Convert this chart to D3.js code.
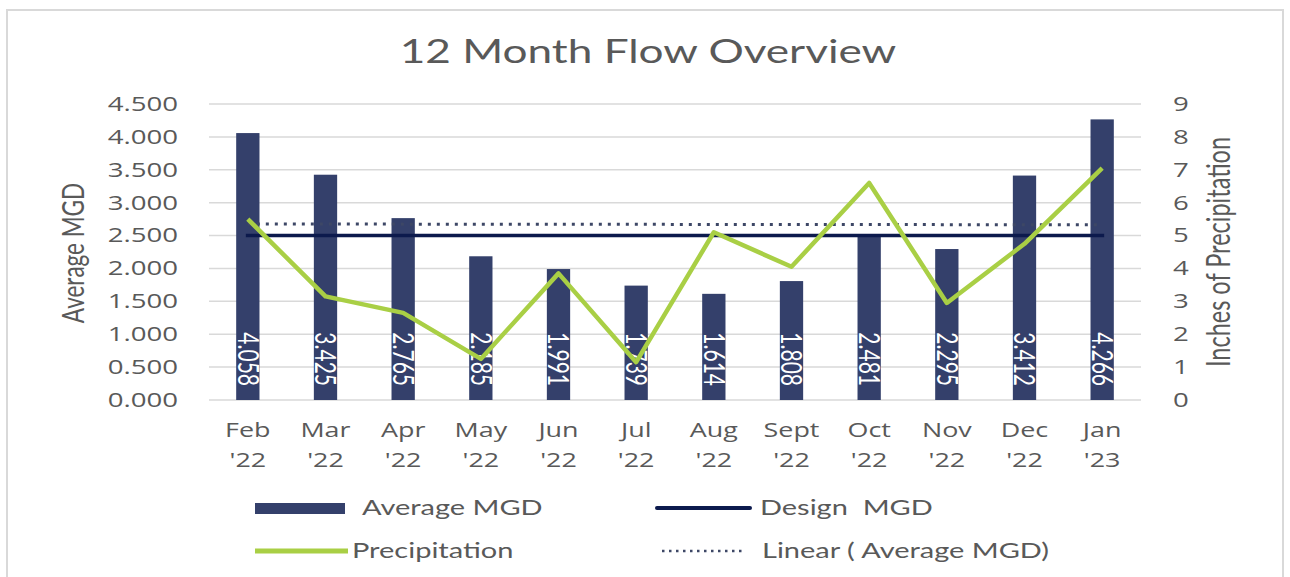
<!DOCTYPE html>
<html>
<head>
<meta charset="utf-8">
<script src="https://cdn.jsdelivr.net/npm/d3@7"></script>
<style>
  body { margin: 0; background: #fff; }
  text { font-family: "Open Sans", sans-serif; fill: #595959; }
  .cal { font-family: Lato, "Open Sans", sans-serif; }
</style>
</head>
<body>
<svg id="chart" width="1290" height="577"></svg>
<script>
// data
const months = ["Feb", "Mar", "Apr", "May", "Jun", "Jul", "Aug", "Sept", "Oct", "Nov", "Dec", "Jan"];
const years = ["'22", "'22", "'22", "'22", "'22", "'22", "'22", "'22", "'22", "'22", "'22", "'23"];
const avgMgd = [4.058, 3.425, 2.765, 2.185, 1.991, 1.739, 1.614, 1.808, 2.481, 2.295, 3.412, 4.266];
const precip = [5.5, 3.15, 2.65, 1.25, 3.85, 1.15, 5.1, 4.05, 6.6, 2.95, 4.75, 7.05];
const designMgd = 2.5;
const leftTicks = [0, 0.5, 1, 1.5, 2, 2.5, 3, 3.5, 4, 4.5];
const rightTicks = [0, 1, 2, 3, 4, 5, 6, 7, 8, 9];

// the source picture is stretched sideways, so text gets the same stretch
const SX = 1.38;

const svg = d3.select('#chart');
const plot = { left: 209, right: 1141, top: 104, bottom: 400 };

const x = d3.scaleBand()
    .domain(months)
    .range([plot.left, plot.right])
    .paddingInner(0.7)
    .paddingOuter(0.35);
const xc = m => x(m) + x.bandwidth() / 2;

const y = d3.scaleLinear().domain([0, 4.5]).range([plot.bottom, plot.top]);
const y2 = d3.scaleLinear().domain([0, 9]).range([plot.bottom, plot.top]);

// outer frame
svg.append('rect')
    .attr('x', 7).attr('y', 10)
    .attr('width', 1276).attr('height', 600)
    .attr('fill', '#fff')
    .attr('stroke', '#d9d9d9')
    .attr('stroke-width', 2);

// title
svg.append('text')
    .attr('class', 'cal')
    .attr('transform', `translate(648,63) scale(${SX},1)`)
    .attr('text-anchor', 'middle')
    .style('font-size', '32px')
    .text('12 Month Flow Overview');

// gridlines
svg.append('g')
    .selectAll('line')
    .data(leftTicks)
    .enter()
    .append('line')
    .attr('x1', plot.left).attr('x2', plot.right)
    .attr('y1', d => y(d)).attr('y2', d => y(d))
    .attr('stroke', '#d9d9d9')
    .attr('stroke-width', 1.5);

// left axis
const gl = svg.append('g')
    .attr('transform', `translate(${plot.left},0)`)
    .call(d3.axisLeft(y).tickValues(leftTicks).tickFormat(d3.format('.3f')).tickSize(0).tickPadding(31));
gl.select('.domain').remove();
gl.selectAll('text')
    .attr('x', -31 / SX)
    .attr('transform', `scale(${SX},1)`)
    .style('font-size', '20px')
    .style('font-family', '"Open Sans", sans-serif')
    .attr('fill', '#595959');

// right axis
const gr = svg.append('g')
    .attr('transform', `translate(${plot.right},0)`)
    .call(d3.axisRight(y2).tickValues(rightTicks).tickSize(0).tickPadding(32));
gr.select('.domain').remove();
gr.selectAll('text')
    .attr('x', 32 / SX)
    .attr('transform', `scale(${SX},1)`)
    .style('font-size', '20px')
    .style('font-family', '"Open Sans", sans-serif')
    .attr('fill', '#595959');

// bottom axis, two line labels
const gb = svg.append('g')
    .attr('transform', `translate(0,${plot.bottom})`)
    .call(d3.axisBottom(x).tickSize(0));
gb.select('.domain').remove();
gb.selectAll('.tick text').each(function (d, i) {
    const t = d3.select(this);
    t.text(null)
        .attr('y', 0).attr('dy', null)
        .attr('transform', `scale(${SX},1)`)
        .style('font-size', '19.5px')
        .style('font-family', '"Open Sans", sans-serif')
        .attr('fill', '#595959');
    t.append('tspan').attr('x', 0).attr('y', 37).text(months[i]);
    t.append('tspan').attr('x', 0).attr('y', 67).text(years[i]);
});

// axis titles
svg.append('text')
    .attr('class', 'cal')
    .attr('transform', `translate(84,253) scale(${SX},1) rotate(-90)`)
    .attr('text-anchor', 'middle')
    .style('font-size', '22.5px')
    .text('Average MGD');

svg.append('text')
    .attr('class', 'cal')
    .attr('transform', `translate(1230,252) scale(${SX},1) rotate(-90)`)
    .attr('text-anchor', 'middle')
    .style('font-size', '23.5px')
    .text('Inches of Precipitation');

// bars
svg.append('g')
    .selectAll('rect')
    .data(avgMgd)
    .enter()
    .append('rect')
    .attr('x', (d, i) => x(months[i]))
    .attr('y', d => y(d))
    .attr('width', x.bandwidth())
    .attr('height', d => y(0) - y(d))
    .attr('fill', '#34406b');

// bar value labels, inside base, rotated
svg.append('g')
    .selectAll('text')
    .data(avgMgd)
    .enter()
    .append('text')
    .attr('class', 'cal')
    .attr('transform', (d, i) => `translate(${xc(months[i])},386) scale(${SX},1) rotate(90)`)
    .attr('text-anchor', 'end')
    .attr('dy', '0.35em')
    .style('font-size', '21px')
    .style('fill', '#fff')
    .text(d => d3.format('.3f')(d));

// trendline of the bars (least squares)
const n = avgMgd.length;
const mx = (n - 1) / 2;
const my = d3.mean(avgMgd);
const slope = d3.sum(avgMgd, (v, i) => (i - mx) * (v - my)) / d3.sum(avgMgd, (v, i) => (i - mx) * (i - mx));
const trend = avgMgd.map((v, i) => my + slope * (i - mx));

svg.append('path')
    .datum(trend)
    .attr('d', d3.line().x((d, i) => xc(months[i])).y(d => y(d)))
    .attr('fill', 'none')
    .attr('stroke', '#3d4766')
    .attr('stroke-width', 3)
    .attr('stroke-dasharray', '3,6');

// design MGD
svg.append('line')
    .attr('x1', xc(months[0]) - 2).attr('x2', xc(months[n - 1]) + 2)
    .attr('y1', y(designMgd)).attr('y2', y(designMgd))
    .attr('stroke', '#0c1a4d')
    .attr('stroke-width', 3.5);

// precipitation line
svg.append('path')
    .datum(precip)
    .attr('d', d3.line().x((d, i) => xc(months[i])).y(d => y2(d)))
    .attr('fill', 'none')
    .attr('stroke', '#a9cf45')
    .attr('stroke-width', 4.5)
    .attr('stroke-linejoin', 'round');

// legend
const lg = svg.append('g');
lg.append('rect')
    .attr('x', 255).attr('y', 503).attr('width', 90).attr('height', 11)
    .attr('fill', '#34406b');
lg.append('line')
    .attr('x1', 657).attr('x2', 750).attr('y1', 508).attr('y2', 508)
    .attr('stroke', '#0c1a4d').attr('stroke-width', 4).attr('stroke-linecap', 'round');
lg.append('line')
    .attr('x1', 255).attr('x2', 348).attr('y1', 551).attr('y2', 551)
    .attr('stroke', '#a9cf45').attr('stroke-width', 5);
lg.append('line')
    .attr('x1', 662).attr('x2', 746).attr('y1', 551).attr('y2', 551)
    .attr('stroke', '#3d4766').attr('stroke-width', 2.5).attr('stroke-dasharray', '2.5,4.5');

const legendItems = [
    { label: 'Average MGD', x: 362, y: 508 },
    { label: 'Design  MGD', x: 760, y: 508 },
    { label: 'Precipitation', x: 352, y: 551 },
    { label: 'Linear ( Average MGD)', x: 762, y: 551 }
];
lg.selectAll('text.leg')
    .data(legendItems)
    .enter()
    .append('text')
    .attr('class', 'cal leg')
    .attr('transform', d => `translate(${d.x},${d.y}) scale(${SX},1)`)
    .attr('dy', '0.35em')
    .style('font-size', '21px')
    .style('white-space', 'pre')
    .text(d => d.label);
</script>
</body>
</html>
